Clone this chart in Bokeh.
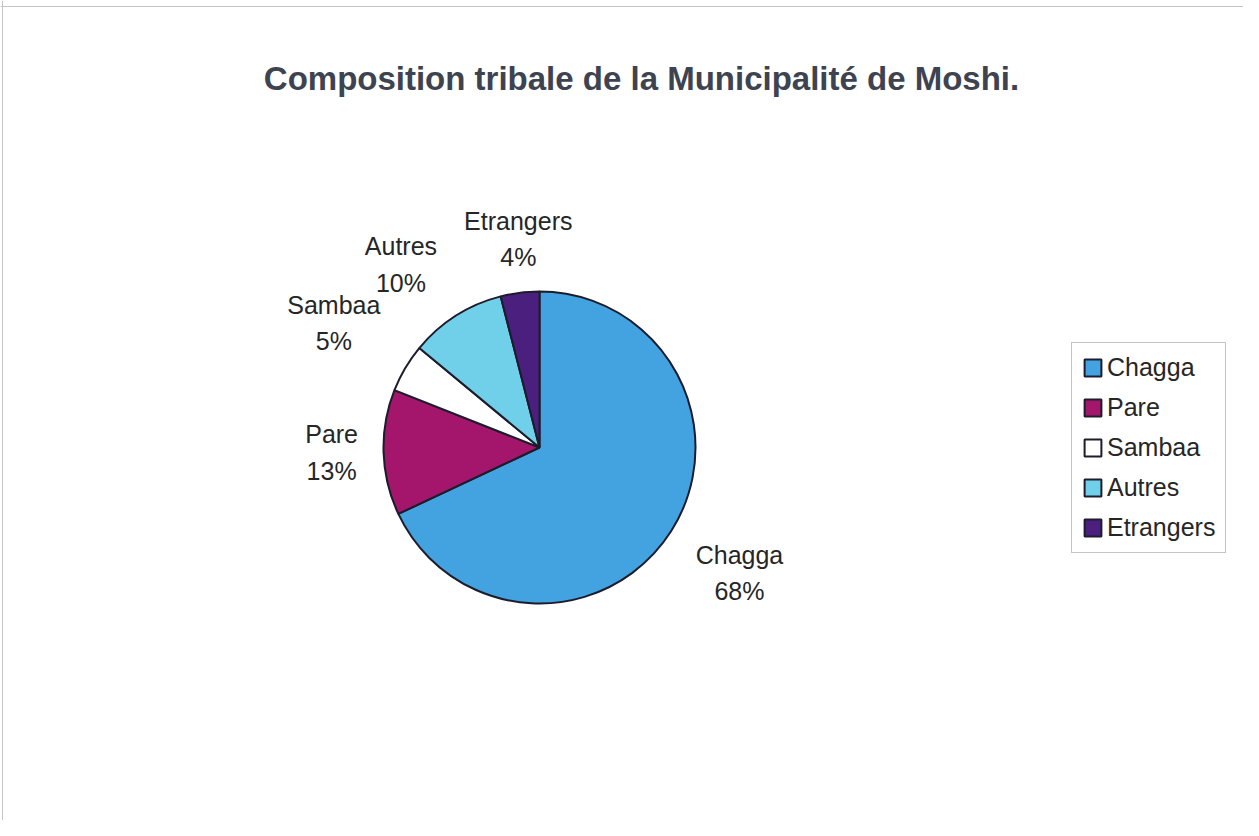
import math
from bokeh.plotting import figure
from bokeh.models import ColumnDataSource, Range1d, Span, Legend, LegendItem, Label
from bokeh.core.properties import value
from bokeh.embed import file_html
from bokeh.resources import INLINE

# ---- data ----
categories = ["Chagga", "Pare", "Sambaa", "Autres", "Etrangers"]
percentages = [68, 13, 5, 10, 4]
colors = ["#42a3e0", "#a3166c", "#ffffff", "#70d0ea", "#4a1f7e"]
title_text = "Composition tribale de la Municipalité de Moshi."

# ---- layout ----
W, H = 1243, 820
cx, cy, radius = 539, 373, 156
label_r = 225
# label nudges (screen px: right, down)
nudges = [(10, 5), (17, -2), (-12, -10), (-18, 7), (7, 15)]
FONT = "Liberation Sans"

p = figure(width=W, height=H, x_range=Range1d(0, W), y_range=Range1d(0, H),
           x_axis_type=None, y_axis_type=None, output_backend="svg",
           toolbar_location=None, min_border=0)
p.outline_line_color = None
p.grid.visible = False
p.background_fill_color = "white"
p.border_fill_color = "white"

total = float(sum(percentages))
starts, ends, lx, ly, labels = [], [], [], [], []
cum = 0.0
for i, v in enumerate(percentages):
    a0 = math.pi / 2 - 2 * math.pi * cum / total
    cum += v
    a1 = math.pi / 2 - 2 * math.pi * cum / total
    starts.append(a0)
    ends.append(a1)
    mid = (a0 + a1) / 2
    lx.append(cx + label_r * math.cos(mid) + nudges[i][0])
    ly.append(cy + label_r * math.sin(mid) - nudges[i][1])
    labels.append(f"{categories[i]}\n{v}%")

src = ColumnDataSource(dict(cat=categories, val=percentages, color=colors,
                            start=starts, end=ends))
wedges = p.wedge(x=cx, y=cy, radius=radius, radius_units="screen",
                 start_angle="start", end_angle="end", direction="clock",
                 fill_color="color", line_color="#1c1c2c", line_width=2,
                 source=src)

lsrc = ColumnDataSource(dict(x=lx, y=ly, t=labels))
p.text(x="x", y="y", text="t", source=lsrc, text_align="center",
       text_baseline="middle", text_font=value(FONT), text_font_size="25px",
       text_color="#262626", text_line_height=1.3)

p.add_layout(Label(x=641, y=742, text=title_text, text_align="center",
                   text_baseline="alphabetic", text_font=FONT,
                   text_font_size="33px", text_font_style="bold",
                   text_color="#3d4350"))

# chart area border (top and left edges visible)
p.add_layout(Span(location=814, dimension="width", line_color="#c4c4c4", line_width=1))
p.add_layout(Span(location=2, dimension="height", line_color="#c4c4c4", line_width=1))

items = [LegendItem(label=c, renderers=[wedges], index=i) for i, c in enumerate(categories)]
legend = Legend(items=items, location=(1071, 267), orientation="vertical",
                label_text_font=FONT, label_text_font_size="25px",
                label_text_color="#262626", glyph_width=21, glyph_height=21,
                label_standoff=4, padding=10, spacing=11,
                border_line_color="#8a8a8a", border_line_width=1,
                background_fill_color="white", background_fill_alpha=1.0)
p.add_layout(legend)

open("out.html", "w").write(file_html(p, INLINE))
